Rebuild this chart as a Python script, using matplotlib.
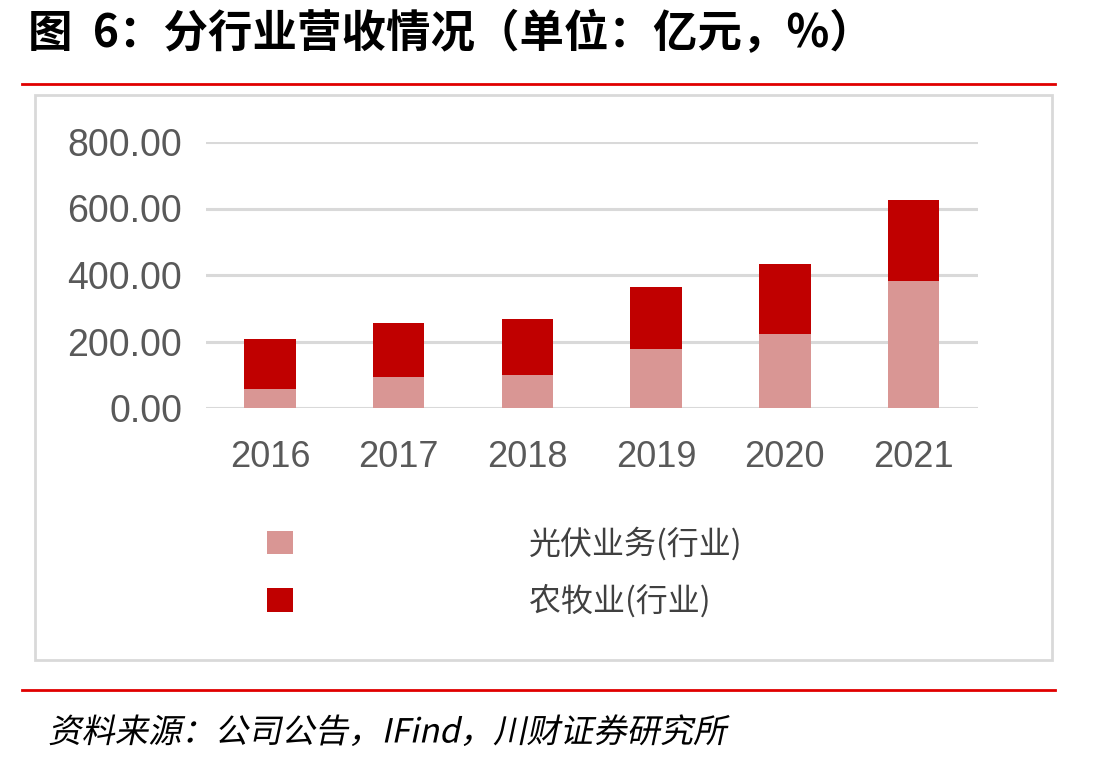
import matplotlib
matplotlib.use("Agg")
import matplotlib.pyplot as plt
from matplotlib.patches import Rectangle, Patch
from matplotlib.lines import Line2D
from matplotlib.patheffects import AbstractPathEffect
from matplotlib.transforms import Affine2D

years = ["2016", "2017", "2018", "2019", "2020", "2021"]
pv_values = [57, 93, 99, 177, 222, 381]          # 光伏业务(行业)
agri_values = [150, 162, 168, 186, 210, 246]     # 农牧业(行业)
series_names = ["光伏业务(行业)", "农牧业(行业)"]
y_ticks = [0, 200, 400, 600, 800]
y_ticklabels = ["0.00", "200.00", "400.00", "600.00", "800.00"]

title_text = "图  6：分行业营收情况（单位：亿元，%）"
source_text = "资料来源：公司公告，IFind，川财证券研究所"

CJK = ["Noto Sans CJK SC", "DejaVu Sans"]
LAT = ["Liberation Sans", "DejaVu Sans"]

class Skew(AbstractPathEffect):
    def __init__(self, deg=12):
        super().__init__()
        self.deg = deg
    def draw_path(self, renderer, gc, tpath, affine, rgbFace=None):
        renderer.draw_path(gc, tpath, Affine2D().skew_deg(self.deg, 0) + affine, rgbFace)

W, H = 1113, 764
fig = plt.figure(figsize=(W / 100, H / 100), dpi=100)

def fx(px): return px / W
def fy(py): return 1 - py / H

# Title
fig.text(fx(28), fy(34), title_text, family=CJK, fontsize=32, weight="bold",
         color="black", ha="left", va="center")

# Red rules
fig.add_artist(Line2D([fx(22), fx(1055)], [fy(84), fy(84)], color="#E00000", lw=2))
fig.add_artist(Line2D([fx(22), fx(1055)], [fy(690), fy(690)], color="#E00000", lw=2))

# Chart frame
fig.add_artist(Rectangle((fx(35), fy(660)), fx(1052) - fx(35), fy(95) - fy(660),
                         transform=fig.transFigure, fill=False, edgecolor="#D9D9D9", lw=2))

# Axes
ax = fig.add_axes([fx(205.7), fy(408), fx(977.8) - fx(205.7), fy(142) - fy(408)])
x = list(range(len(years)))
light = "#D99694"
dark = "#C00000"
ax.bar(x, pv_values, width=0.40, color=light, zorder=3)
ax.bar(x, agri_values, width=0.40, bottom=pv_values, color=dark, zorder=3)
ax.set_xlim(-0.5, len(years) - 0.5)
ax.set_ylim(0, 800)
ax.set_yticks(y_ticks)
ax.set_yticklabels(y_ticklabels)
ax.set_xticks(x)
ax.set_xticklabels(years)
ax.yaxis.grid(True, color="#D9D9D9", lw=2.2, zorder=0)
ax.set_axisbelow(True)
for s in ax.spines.values():
    s.set_visible(False)
ax.tick_params(axis="both", length=0, colors="#595959", labelsize=26)
ax.tick_params(axis="x", labelsize=26)
ax.tick_params(axis="y", labelsize=27, pad=17)
ax.tick_params(axis="x", pad=23)
for lab in ax.get_xticklabels() + ax.get_yticklabels():
    lab.set_family(LAT)

# Legend
handles = [Patch(facecolor=light, edgecolor="none"), Patch(facecolor=dark, edgecolor="none")]
leg = fig.legend(handles, series_names, loc="upper left",
                 bbox_to_anchor=(fx(267), fy(527)), bbox_transform=fig.transFigure,
                 frameon=False, prop={"family": CJK, "size": 23},
                 handlelength=0.8, handleheight=0.75, handletextpad=7.4,
                 labelspacing=0.75, borderpad=0, borderaxespad=0)
for t in leg.get_texts():
    t.set_color("#404040")

# Source
fig.text(fx(48), fy(733), source_text, family=CJK, fontsize=24, color="black",
         ha="left", va="center", path_effects=[Skew(12)])

fig.savefig("out.png", dpi=100, facecolor="white")
